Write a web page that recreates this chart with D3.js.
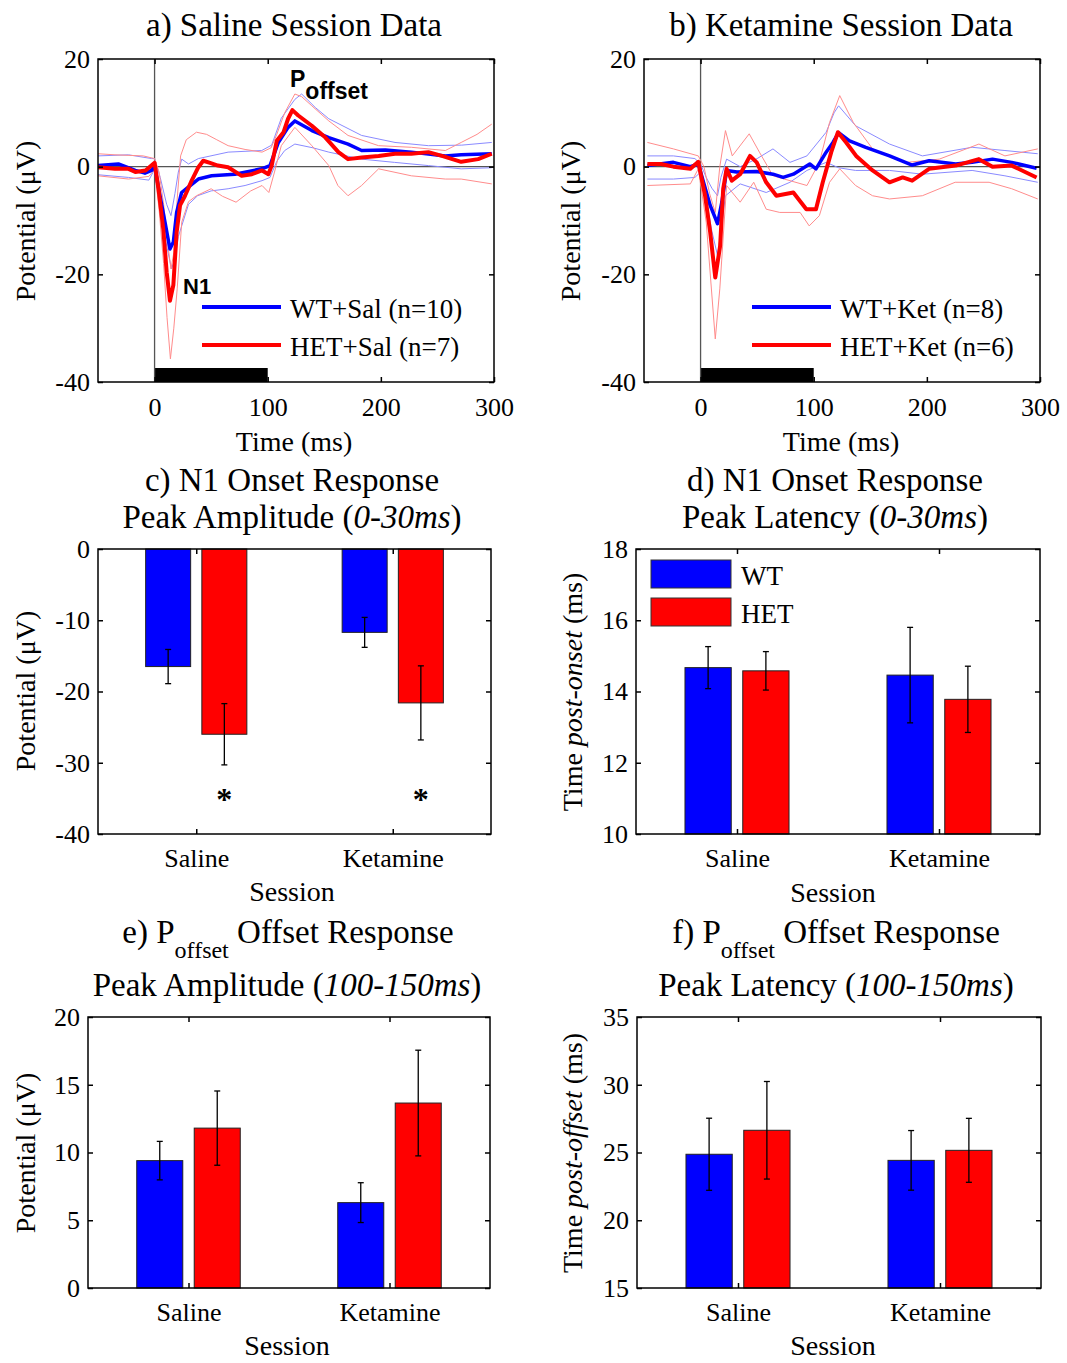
<!DOCTYPE html>
<html><head><meta charset="utf-8">
<script src="https://cdn.jsdelivr.net/npm/d3@7"></script>
<style>
body{margin:0;background:#fff}
text{font-family:"Liberation Serif","Times New Roman",serif;fill:#000}
text.ann{font-family:"Liberation Sans",Arial,sans-serif;font-weight:bold}
</style>
</head><body><script>
// ---------------- DATA ----------------
// Waveforms: [time (ms), potential (µV)]
const salWtMean = [[-50,0.2],[-32,0.5],[-17,-0.7],[-8.5,-1.2],[-2.6,-0.7],[0,0.2],[4.8,-5.4],[9.2,-10.3],[13.6,-15.3],[16.6,-14],[19.5,-8.5],[23.9,-4.8],[29.8,-3.8],[38.7,-2.3],[50.4,-1.7],[71,-1.4],[94.7,-0.4],[102,0.2],[109.4,4.5],[118,7.3],[124,8.5],[139,6.7],[154,5.4],[171,4.2],[183,3.0],[204,3.1],[227,2.7],[257,2.0],[271,2.2],[298,2.4]];
const salHetMean = [[-50,-0.1],[-35,-0.4],[-23,-0.4],[-17,-1.0],[-8,-0.7],[0,0.7],[3.4,-4],[7.7,-11.6],[10.7,-19.6],[13.6,-24.9],[16.6,-22],[19.5,-12.2],[22.5,-7.2],[26.9,-5.4],[32.8,-2.6],[38.7,-0.1],[43,1.1],[49,0.7],[56,0.2],[65,-0.1],[77,-1.7],[86,-1.4],[95,-0.7],[100.6,-1.4],[103.5,0.2],[108,4.8],[114,6.4],[118,8.9],[121.8,10.5],[127,9.5],[139,7.6],[151,5.4],[162.5,2.7],[171,1.4],[183,1.7],[198,2.0],[212.5,2.4],[227,2.4],[242,2.7],[254,2.0],[271,0.9],[286,1.4],[298,2.4]];
const salWtUpper = [[-50,2.0],[-23,2.2],[-2.6,1.5],[0,1.5],[5,-2],[10.7,-7],[14.5,-9.1],[18,-5],[21,-1],[24,1.4],[30,0.5],[38.7,1.5],[65,2.7],[94.7,3.0],[103.5,4.0],[112,9],[124,12.5],[130,13.5],[142,11],[154,8.9],[183,5.8],[212.5,4.5],[242,3.9],[271.5,4.0],[298,4.5]];
const salWtLower = [[-50,-1.5],[-23,-2.0],[-5,-2.5],[0,-0.5],[5,-7],[10,-14],[15,-19],[18,-17],[21,-13],[24,-11],[30,-7],[38,-5.4],[50,-4.5],[65,-4.1],[80,-3.5],[95,-2.6],[102,-2.0],[108,1.0],[115,3.0],[124,4.2],[140,3.5],[154,2.7],[183,1.4],[212,0.8],[242,0.2],[271,-0.4],[298,-0.2]];
const salHetUpper = [[-50,2.4],[-35,2.2],[-10,2.0],[0,1.5],[4,-1],[8,-7],[12,-15],[14.5,-19],[17,-16],[20,-6],[23,2],[28,5],[37,6.4],[46,6.0],[55,5.0],[65,3.9],[80,3.2],[95,2.7],[103,3.5],[108,6],[115,10],[124,13.5],[130,13],[139,11.3],[154,8.5],[171,5.8],[198,3.9],[227,3.6],[257,3.0],[271,4.5],[285,6],[298,7.9]];
const salHetLower = [[-50,-1.7],[-23,-2.3],[-5,-1.8],[0,-0.5],[4,-8],[8,-18],[11,-28],[14,-35.7],[17,-30],[20,-22.7],[24,-10.3],[30,-6.5],[37,-5.4],[50,-4.1],[60,-5.5],[72,-6.6],[85,-4.5],[95,-3.5],[101,-4.8],[106,-1],[112,3.9],[124,7.3],[139,3.9],[154,0.2],[162,-3.5],[171,-5.4],[183,-3.5],[198,-0.4],[227,-1.7],[257,-2.3],[271,-2.3],[298,-3.2]];

const ketWtMean = [[-47,0.2],[-24,0.8],[-9,0],[-2,0.5],[2.6,-2.9],[8.5,-7.2],[15,-10.6],[18.8,-6.6],[23,-0.7],[32,-1.0],[49.6,-0.9],[64,-1.4],[73,-2.0],[82,-1.4],[96.5,0.5],[102,-0.4],[111,2.7],[117,4.5],[122,6.3],[131.7,4.8],[146,3.6],[167,2.0],[187,0.3],[202,1.1],[225.5,0.5],[240,0.8],[258,1.4],[275,0.8],[297,-0.3]];
const ketHetMean = [[-47,0.5],[-35,0.5],[-24,0],[-9,-0.4],[-2,0.9],[4,-5.4],[8.5,-12.2],[13,-20.6],[17.3,-14.7],[20,-4.1],[23,-0.4],[27.6,-2.6],[35,-1.4],[43.7,2.0],[49.6,0.8],[58,-2.9],[67,-5.4],[82,-4.8],[93.5,-7.9],[102,-7.9],[108,-2.9],[115.5,2.7],[121.4,6.4],[128.7,4.5],[137.5,2.0],[152,-0.7],[167,-2.9],[178.6,-2.0],[187,-2.6],[202,-0.4],[225.5,0.2],[246,1.4],[258,0],[275,0.2],[297,-2.0]];
const ketWtUpper = [[-47,2.0],[-24,2.0],[-5,1.5],[0,0.5],[5,-2],[10,-4],[15,-5.4],[18,-2],[23,1.4],[35,0],[50,1.5],[64,3.3],[79,0.8],[94,2.0],[111,6.4],[118,10],[122,11.3],[137,7.6],[167,4.2],[196,2.0],[240,3.6],[269,3.0],[298,2.4]];
const ketWtLower = [[-47,-2.3],[-24,-2.3],[-5,-2.0],[0,-1],[5,-6],[10,-12],[15,-16.5],[18,-12],[22,-5.4],[35,-3.2],[58,-4.8],[79,-2.9],[94,-0.7],[111,0.8],[122,-0.2],[137,-0.7],[167,-0.7],[196,-1.4],[240,-0.7],[269,-1.7],[298,-2.9]];
const ketHetUpper = [[-47,4.5],[-24,3.3],[-2,2.0],[3,0],[8,-5],[13,-8.5],[17,0],[22,6.7],[28,2.0],[43,6.1],[52,2.7],[64,-1.7],[94,-3.5],[105,0.8],[114,8.2],[123,13.2],[135,8.2],[152,3.3],[182,0.8],[211,1.4],[246,4.2],[269,2.0],[298,3.3]];
const ketHetLower = [[-47,-3.5],[-9,-3.2],[-2,-0.4],[5,-10.3],[13,-32],[17,-22.7],[23,-3.5],[35,-6.6],[47,-2.9],[58,-7.9],[70,-8.5],[88,-8.5],[96,-11],[105,-9.1],[114,-2.9],[123,-0.4],[137,-3.5],[152,-5.4],[167,-6.0],[196,-5.4],[225,-2.9],[255,-2.9],[275,-4.1],[298,-6.0]];

const timeTicks = [0,100,200,300];
const potTicks = [-40,-20,0,20];
const stimulus = [0,100];

// Bar data (Saline, Ketamine)
const sessions = ["Saline","Ketamine"];
const groups = ["WT","HET"];
const n1AmpWT = [-16.5,-11.7], n1AmpWTerr = [2.4,2.1];
const n1AmpHET = [-26.0,-21.6], n1AmpHETerr = [4.3,5.2];
const n1AmpTicks = [0,-10,-20,-30,-40];
const n1AmpSigHET = ["*","*"];
const n1LatWT = [14.67,14.46], n1LatWTerr = [0.59,1.34];
const n1LatHET = [14.58,13.78], n1LatHETerr = [0.54,0.93];
const n1LatTicks = [10,12,14,16,18];
const pAmpWT = [9.4,6.3], pAmpWTerr = [1.42,1.47];
const pAmpHET = [11.8,13.65], pAmpHETerr = [2.74,3.9];
const pAmpTicks = [0,5,10,15,20];
const pLatWT = [24.87,24.42], pLatWTerr = [2.66,2.2];
const pLatHET = [26.64,25.16], pLatHETerr = [3.6,2.36];
const pLatTicks = [15,20,25,30,35];

// ---------------- DRAWING ----------------
const svg = d3.select("body").append("svg").attr("width",1067).attr("height",1363);
const BLUE="#0000ff", RED="#ff0000", LBLUE="#8a8aff", LRED="#ff8c8c";
const fmt = d => String(d);

function frame(g, xs, ys, box, xTickVals, yTickVals, showXLabels, xPad){
  const {x0,x1,y0,y1} = box;
  const style = sel => { sel.attr("font-size",26);
    sel.selectAll("path.domain").remove(); sel.selectAll("line").attr("stroke","#000").attr("stroke-width",1.5); };
  g.append("g").attr("transform",`translate(${x0},0)`).call(d3.axisLeft(ys).tickValues(yTickVals).tickSize(-5).tickPadding(8).tickFormat(fmt)).call(style);
  g.append("g").attr("transform",`translate(${x1},0)`).call(d3.axisRight(ys).tickValues(yTickVals).tickSize(-5).tickFormat("")).call(style);
  g.append("g").attr("transform",`translate(0,${y0})`).call(d3.axisTop(xs).tickValues(xTickVals).tickSize(-5).tickFormat("")).call(style);
  g.append("g").attr("transform",`translate(0,${y1})`).call(d3.axisBottom(xs).tickValues(xTickVals).tickSize(-5).tickPadding(xPad).tickFormat(showXLabels)).call(style);
  g.append("rect").attr("x",x0).attr("y",y0).attr("width",x1-x0).attr("height",y1-y0)
    .attr("fill","none").attr("stroke","#000").attr("stroke-width",1.5);
}

function yLabel(x,y,parts){
  const t = svg.append("text").attr("transform",`translate(${x},${y}) rotate(-90)`)
    .attr("text-anchor","middle").attr("dy","0.35em").attr("font-size",28);
  parts.forEach(p=>t.append("tspan").attr("font-style",p[1]?"italic":"normal").text(p[0]));
}
function xLabel(x,y,s){
  svg.append("text").attr("x",x).attr("y",y).attr("text-anchor","middle").attr("font-size",28).text(s);
}
function title(x,y,parts,size){
  const t = svg.append("text").attr("x",x).attr("y",y).attr("text-anchor","middle").attr("font-size",size||33);
  parts.forEach(p=>{
    const ts = t.append("tspan").text(p.t);
    if(p.i) ts.attr("font-style","italic");
    if(p.sub){ ts.attr("font-size",24).attr("dy",15); }
    if(p.after) ts.attr("dy",-15);
  });
}

function wavePanel(box, series, legendLabels, legendX){
  const {x0,x1,y0,y1} = box;
  const xs = d3.scaleLinear().domain([-50,300]).range([x0,x1]);
  const ys = d3.scaleLinear().domain([-40,20]).range([y1,y0]);
  const g = svg.append("g");
  const id = "clip"+Math.round(x0);
  svg.append("clipPath").attr("id",id).append("rect").attr("x",x0).attr("y",y0).attr("width",x1-x0).attr("height",y1-y0);
  const pg = g.append("g").attr("clip-path",`url(#${id})`);
  pg.append("rect").attr("x",xs(stimulus[0])).attr("width",xs(stimulus[1])-xs(stimulus[0]))
    .attr("y",ys(-37.4)).attr("height",ys(-40)-ys(-37.4)).attr("fill","#000");
  pg.append("line").attr("x1",x0).attr("x2",x1).attr("y1",ys(0)).attr("y2",ys(0)).attr("stroke","#555").attr("stroke-width",1.3);
  pg.append("line").attr("x1",xs(0)).attr("x2",xs(0)).attr("y1",y0).attr("y2",y1).attr("stroke","#555").attr("stroke-width",1.3);
  const line = d3.line().x(d=>xs(d[0])).y(d=>ys(d[1]));
  series.forEach(s=>{
    pg.append("path").datum(s.data).attr("d",line).attr("fill","none")
      .attr("stroke",s.color).attr("stroke-width",s.w).attr("stroke-linejoin","round");
  });
  frame(g, xs, ys, box, timeTicks, potTicks, fmt, 15.5);
  [[BLUE,legendLabels[0],307],[RED,legendLabels[1],345]].forEach(([c,l,y])=>{
    g.append("line").attr("x1",legendX).attr("x2",legendX+79).attr("y1",y).attr("y2",y).attr("stroke",c).attr("stroke-width",4);
    g.append("text").attr("x",legendX+88).attr("y",y+11).attr("font-size",27).text(l);
  });
  return {xs,ys};
}

// Panel a
const boxA = {x0:98,x1:494,y0:59,y1:382};
wavePanel(boxA, [
  {data:salWtUpper,color:LBLUE,w:1},{data:salWtLower,color:LBLUE,w:1},
  {data:salHetUpper,color:LRED,w:1},{data:salHetLower,color:LRED,w:1},
  {data:salWtMean,color:BLUE,w:3.5},{data:salHetMean,color:RED,w:4}
], ["WT+Sal (n=10)","HET+Sal (n=7)"], 202);
title(294,36,[{t:"a) Saline Session Data"}]);
yLabel(25,221,[["Potential (μV)"]]);
xLabel(294,451,"Time (ms)");
svg.append("text").attr("class","ann").attr("x",183).attr("y",294).attr("font-size",22).text("N1");
const pt = svg.append("text").attr("class","ann").attr("x",290).attr("y",87).attr("font-size",23);
pt.append("tspan").text("P");
pt.append("tspan").attr("dy",12).text("offset");

// Panel b
const boxB = {x0:644,x1:1040,y0:59,y1:382};
wavePanel(boxB, [
  {data:ketWtUpper,color:LBLUE,w:1},{data:ketWtLower,color:LBLUE,w:1},
  {data:ketHetUpper,color:LRED,w:1},{data:ketHetLower,color:LRED,w:1},
  {data:ketWtMean,color:BLUE,w:3.5},{data:ketHetMean,color:RED,w:4}
], ["WT+Ket (n=8)","HET+Ket (n=6)"], 752);
title(841,36,[{t:"b) Ketamine Session Data"}]);
yLabel(570,221,[["Potential (μV)"]]);
xLabel(841,451,"Time (ms)");

function barPanel(box, domain, ticks, wt, wtErr, het, hetErr){
  const {x0,x1,y0,y1} = box;
  const xs = d3.scalePoint().domain(sessions).range([x0,x1]).padding(0.5);
  const ys = d3.scaleLinear().domain(domain).range([y1,y0]);
  const step = xs.step(), bw = 0.229*step, off = 0.143*step;
  const base = ys(Math.min(Math.max(0,domain[0]),domain[1]));
  const g = svg.append("g");
  const ser = [{v:wt,e:wtErr,c:BLUE,o:-off},{v:het,e:hetErr,c:RED,o:off}];
  ser.forEach(s=>{
    sessions.forEach((cat,i)=>{
      const cx = xs(cat)+s.o, yv = ys(s.v[i]);
      g.append("rect").attr("x",cx-bw/2).attr("width",bw).attr("y",Math.min(yv,base)).attr("height",Math.abs(base-yv))
        .attr("fill",s.c).attr("stroke","#222").attr("stroke-width",1);
    });
  });
  ser.forEach(s=>{
    sessions.forEach((cat,i)=>{
      const cx = xs(cat)+s.o, ya = ys(s.v[i]+s.e[i]), yb = ys(s.v[i]-s.e[i]);
      g.append("line").attr("x1",cx).attr("x2",cx).attr("y1",ya).attr("y2",yb).attr("stroke","#000").attr("stroke-width",1.3);
      [ya,yb].forEach(y=>g.append("line").attr("x1",cx-3).attr("x2",cx+3).attr("y1",y).attr("y2",y).attr("stroke","#000").attr("stroke-width",1.3));
    });
  });
  frame(g, xs, ys, box, sessions, ticks, d=>d, 14.5);
  return {xs,ys,off,g};
}

// Panel c
const boxC = {x0:98,x1:491,y0:549,y1:834};
const pc = barPanel(boxC, [-40,0], n1AmpTicks, n1AmpWT, n1AmpWTerr, n1AmpHET, n1AmpHETerr);
sessions.forEach((cat,i)=>{
  pc.g.append("text").attr("x",pc.xs(cat)+pc.off).attr("y",pc.ys(-34.5)+15).attr("text-anchor","middle")
    .attr("font-size",32).attr("font-weight","bold").text(n1AmpSigHET[i]);
});
title(292,491,[{t:"c) N1 Onset Response"}]);
title(292,528,[{t:"Peak Amplitude ("},{t:"0-30ms",i:true},{t:")"}]);
yLabel(25,691,[["Potential (μV)"]]);
xLabel(292,901,"Session");

// Panel d
const boxD = {x0:636,x1:1040,y0:549,y1:834};
barPanel(boxD, [10,18], n1LatTicks, n1LatWT, n1LatWTerr, n1LatHET, n1LatHETerr);
title(835,491,[{t:"d) N1 Onset Response"}]);
title(835,528,[{t:"Peak Latency ("},{t:"0-30ms",i:true},{t:")"}]);
yLabel(572,692,[["Time "],["post-onset",true],[" (ms)"]]);
xLabel(833,902,"Session");
[[BLUE,groups[0],560],[RED,groups[1],598]].forEach(([c,l,y])=>{
  svg.append("rect").attr("x",651).attr("y",y).attr("width",80).attr("height",28).attr("fill",c).attr("stroke","#333").attr("stroke-width",1);
  svg.append("text").attr("x",741).attr("y",y+25).attr("font-size",27).text(l);
});

// Panel e
const boxE = {x0:88,x1:490,y0:1017,y1:1288};
barPanel(boxE, [0,20], pAmpTicks, pAmpWT, pAmpWTerr, pAmpHET, pAmpHETerr);
title(288,943,[{t:"e) P"},{t:"offset",sub:true},{t:" Offset Response",after:true}]);
title(287,996,[{t:"Peak Amplitude ("},{t:"100-150ms",i:true},{t:")"}]);
yLabel(25,1153,[["Potential (μV)"]]);
xLabel(287,1355,"Session");

// Panel f
const boxF = {x0:637,x1:1041,y0:1017,y1:1288};
barPanel(boxF, [15,35], pLatTicks, pLatWT, pLatWTerr, pLatHET, pLatHETerr);
title(836,943,[{t:"f) P"},{t:"offset",sub:true},{t:" Offset Response",after:true}]);
title(836,996,[{t:"Peak Latency ("},{t:"100-150ms",i:true},{t:")"}]);
yLabel(572,1153,[["Time "],["post-offset",true],[" (ms)"]]);
xLabel(833,1355,"Session");
</script></body></html>
